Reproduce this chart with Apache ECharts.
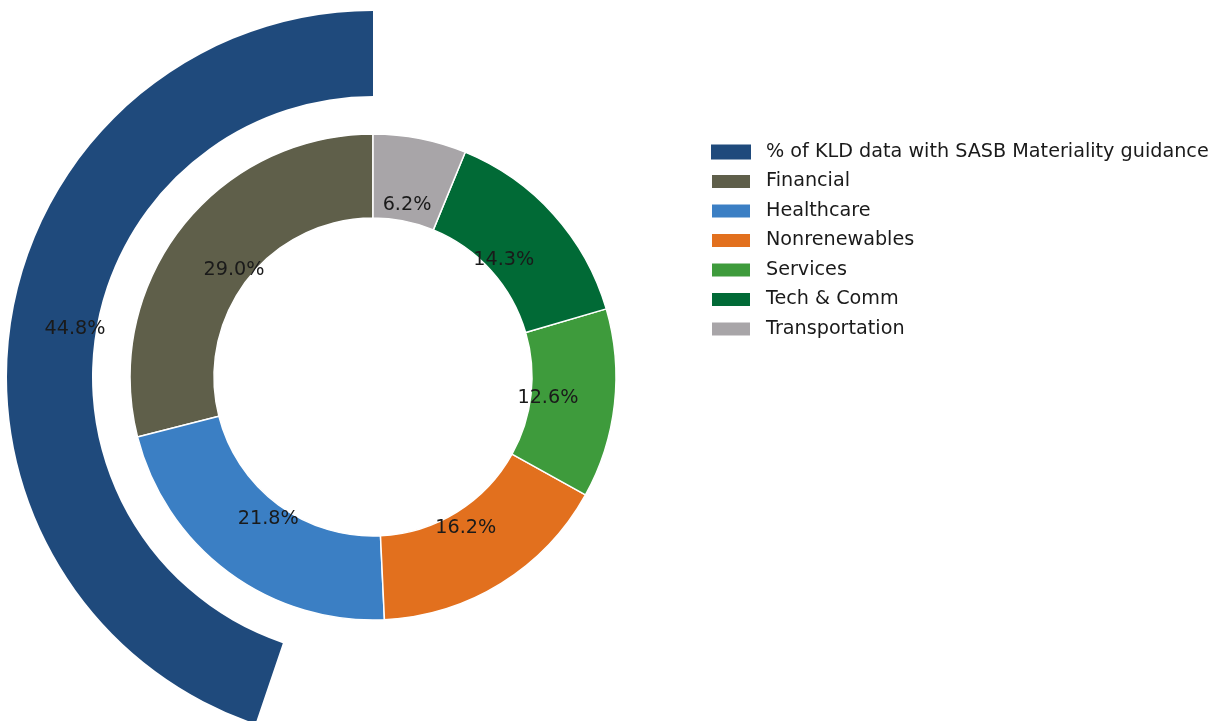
<!DOCTYPE html>
<html>
<head>
<meta charset="utf-8">
<script src="https://cdn.jsdelivr.net/npm/echarts@6/dist/echarts.min.js"></script>
<style>
html,body{margin:0;padding:0;background:#fff;}
#c{width:1229px;height:721px;}
</style>
</head>
<body>
<div id="c"></div>
<script>
// Data
const outerName = '% of KLD data with SASB Materiality guidance';
const outerValue = 44.8;
const sectors = ['Financial', 'Healthcare', 'Nonrenewables', 'Services', 'Tech & Comm', 'Transportation'];
const sectorValues = [29.0, 21.8, 16.2, 12.6, 14.3, 6.2];
const sectorColors = ['#5f5f4a', '#3b7fc4', '#e2701e', '#3e9b3c', '#016a36', '#a8a5a8'];
const outerColor = '#1f4a7c';

const FONT = "'DejaVu Sans', sans-serif";
const FS = 19.2;
const center = [373, 377];

const chart = echarts.init(document.getElementById('c'), null, {renderer: 'canvas'});

const pctFmt = p => p.value.toFixed(1) + '%';

const option = {
  animation: false,
  backgroundColor: '#fff',
  legend: {
    orient: 'vertical',
    left: 705,
    top: 137.5,
    itemWidth: 40,
    itemHeight: 15,
    itemGap: 10.5,
    icon: 'rect',
    selectedMode: false,
    data: [outerName].concat(sectors),
    textStyle: {
      fontFamily: FONT,
      fontSize: FS,
      color: '#1a1a1a',
      padding: [0, 0, 0, 10]
    }
  },
  series: [
    {
      type: 'pie',
      center: center,
      radius: [281, 366],
      startAngle: 90,
      clockwise: false,
      silent: true,
      label: {show: false},
      labelLine: {show: false},
      emphasis: {disabled: true},
      data: [
        {name: outerName, value: outerValue, itemStyle: {color: outerColor}},
        {name: '_rest', value: 100 - outerValue, itemStyle: {color: 'rgba(0,0,0,0)'}}
      ]
    },
    {
      type: 'pie',
      center: center,
      radius: [159, 243],
      startAngle: 90,
      clockwise: false,
      silent: true,
      label: {show: false},
      labelLine: {show: false},
      emphasis: {disabled: true},
      itemStyle: {borderColor: '#fff', borderWidth: 1.5},
      data: sectors.map((n, i) => ({name: n, value: sectorValues[i], itemStyle: {color: sectorColors[i]}}))
    },
    // label-only rings
    {
      type: 'pie',
      center: center,
      radius: [281, 317],
      startAngle: 90,
      clockwise: false,
      silent: true,
      z: 5,
      emphasis: {disabled: true},
      labelLine: {show: false},
      itemStyle: {color: 'rgba(0,0,0,0)'},
      data: [
        {name: 'lbl_outer', value: outerValue, label: {show: true}},
        {name: 'lbl_rest', value: 100 - outerValue, label: {show: false}}
      ],
      label: {position: 'inside', offset: [0, 1], formatter: pctFmt, fontFamily: FONT, fontSize: FS, color: '#1a1a1a'}
    },
    {
      type: 'pie',
      center: center,
      radius: [159, 187],
      startAngle: 90,
      clockwise: false,
      silent: true,
      z: 5,
      emphasis: {disabled: true},
      labelLine: {show: false},
      itemStyle: {color: 'rgba(0,0,0,0)'},
      data: sectors.map((n, i) => ({name: 'lbl_' + n, value: sectorValues[i]})),
      label: {show: true, position: 'inside', offset: [0, 1], formatter: pctFmt, fontFamily: FONT, fontSize: FS, color: '#1a1a1a'}
    }
  ]
};
chart.setOption(option);
</script>
</body>
</html>
